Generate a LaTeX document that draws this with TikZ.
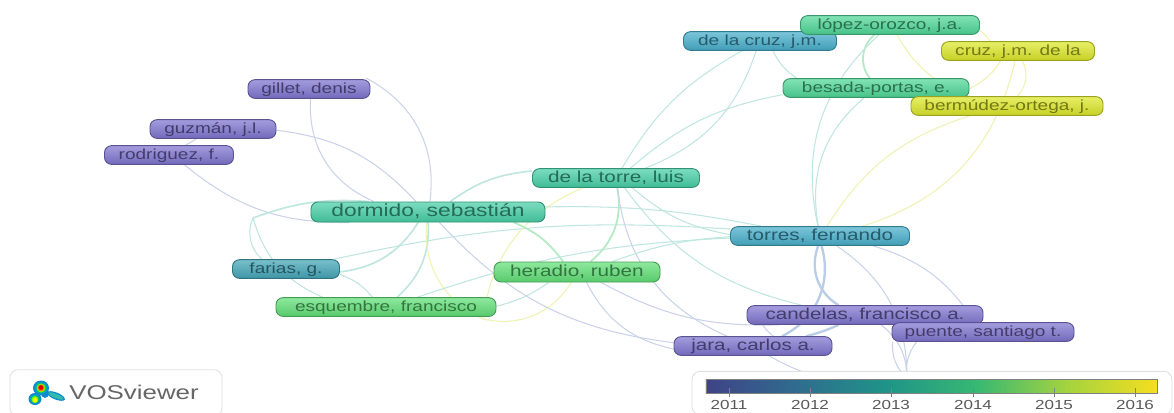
\documentclass[tikz,border=0pt]{standalone}
\usepackage{fontspec}
\setmainfont[FakeStretch=1.3]{Liberation Sans}
\usepackage{xcolor}
\usepackage{tikz}
\usetikzlibrary{backgrounds}

\definecolor{violetc}{HTML}{7F76D0}
\definecolor{bluec}{HTML}{48AFCB}
\definecolor{farisc}{HTML}{45A6B8}
\definecolor{tealc}{HTML}{48D0A6}
\definecolor{mintc}{HTML}{50D898}
\definecolor{greenc}{HTML}{62E078}
\definecolor{yellowc}{HTML}{DDE82A}
\definecolor{linkv}{HTML}{CBD3EA}
\definecolor{linkb}{HTML}{BACDE6}
\definecolor{linkt}{HTML}{C0E6E0}
\definecolor{linkg}{HTML}{B4EAC4}
\definecolor{linky}{HTML}{EEF3B4}
\definecolor{bara}{HTML}{404387}
\definecolor{barb}{HTML}{2F6C8E}
\definecolor{barc}{HTML}{1F9488}
\definecolor{bard}{HTML}{37B873}
\definecolor{bare}{HTML}{A4D33E}
\definecolor{barf}{HTML}{F5DE20}
\pgfdeclarehorizontalshading{yearbar}{100bp}{color(0bp)=(bara); color(25bp)=(bara); color(35bp)=(barb); color(45bp)=(barc); color(55bp)=(bard); color(65bp)=(bare); color(75bp)=(barf); color(100bp)=(barf)}

\begin{document}
\begin{tikzpicture}[x=0.03cm, y=-0.03cm,
    author/.style={rectangle, rounded corners=6pt, draw=#1!70!black, top color=#1!72!white, bottom color=#1!90!black, text=#1!52!black, line width=.8pt, inner sep=0pt, minimum height=0.56cm, text height=9pt, text depth=1pt, font=\fontsize{12.5}{14}\selectfont},
    vlink/.style={linkv, line width=.9pt},
    vthick/.style={linkb, line width=2pt},
    tlink/.style={linkt, line width=.9pt},
    gthick/.style={linkg, line width=1.5pt},
    tthick/.style={linkt, line width=1.4pt},
    ylink/.style={linky, line width=.9pt},
    whitebox/.style={rectangle, rounded corners=7pt, draw=gray!25, fill=white, line width=.7pt},
    tick/.style={gray, line width=.7pt},
    yearlabel/.style={text=black!65, font=\fontsize{11.2}{13}\selectfont}
]
\clip (0,0) rectangle (1174,412);

% Free ends of the links
\coordinate (gillettip) at (366,78);
\coordinate (fariastip) at (253,218);
\coordinate (esqtip) at (483,319);
\coordinate (bottomtip) at (907,378);

% Authors
\node[author=violetc, minimum width=3.66cm] (gillet) at (309,89) {gillet, denis};
\node[author=violetc, minimum width=3.78cm] (guzman) at (213,129) {guzmán, j.l.};
\node[author=violetc, minimum width=3.87cm] (rodriguez) at (169,155) {rodriguez, f.};
\node[author=tealc, minimum width=7.02cm, minimum height=0.6cm, font=\fontsize{15}{17}\selectfont] (dormido) at (428,212) {dormido, sebastián};
\node[author=tealc, minimum width=5.01cm, font=\fontsize{13.6}{15}\selectfont] (torre) at (616,178) {de la torre, luis};
\node[author=farisc, minimum width=3.21cm] (farias) at (286,269) {farias, g.};
\node[author=greenc, minimum width=6.6cm] (esquembre) at (386,307) {esquembre, francisco};
\node[author=greenc, minimum width=4.98cm, minimum height=0.6cm, font=\fontsize{13.6}{15}\selectfont] (heradio) at (577,272) {heradio, ruben};
\node[author=bluec, minimum width=5.37cm, font=\fontsize{13.6}{15}\selectfont] (torres) at (820,236) {torres, fernando};
\node[author=violetc, minimum width=7.08cm, font=\fontsize{13.5}{15}\selectfont] (candelas) at (865,315) {candelas, francisco a.};
\node[author=violetc, minimum width=5.46cm] (puente) at (983,332) {puente, santiago t.};
\node[author=violetc, minimum width=4.74cm, font=\fontsize{13.5}{15}\selectfont] (jara) at (753,346) {jara, carlos a.};
\node[author=bluec, minimum width=4.59cm] (cruzjm) at (760,41) {de la cruz, j.m.};
\node[author=mintc, minimum width=5.37cm] (lopez) at (890,25) {lópez-orozco, j.a.};
\node[author=yellowc, minimum width=4.59cm] (cruz) at (1018,51) {cruz, j.m. de la};
\node[author=mintc, minimum width=5.58cm] (besada) at (876,88) {besada-portas, e.};
\node[author=yellowc, minimum width=5.76cm] (bermudez) at (1007,106) {bermúdez-ortega, j.};

% Links behind the authors
\begin{pgfonlayer}{background}
\fill[white] (0,0) rectangle (1174,412);
\draw[vlink] (gillet) to[bend right=35] (dormido);
\draw[vlink] (gillettip) to[bend left=35] (dormido);
\draw[vlink] (guzman) to[bend left=20] (dormido);
\draw[vlink] (guzman) -- (rodriguez);
\draw[vlink] (rodriguez) to[bend right=20] (dormido);
\draw[tthick] (dormido) to[bend right=12] (fariastip);
\draw[tlink] (fariastip) to[bend right=35] (farias);
\draw[tlink] (fariastip) to[bend right=25] (esquembre);
\draw[tthick] (farias) to[bend right=25] (dormido);
\draw[tlink] (farias) to[bend left=15] (esquembre);
\draw[tlink] (farias) to[bend left=8] (torres);
\draw[tthick] (esquembre) to[bend right=25] (dormido);
\draw[ylink] (dormido) to[bend right=35] (esqtip);
\draw[ylink] (esqtip) to[bend left=30] (torre);
\draw[ylink] (esqtip) to[bend right=35] (heradio);
\draw[gthick] (dormido) to[bend left=15] (heradio);
\draw[tthick] (dormido) to[bend left=15] (torre);
\draw[tlink] (dormido) to[bend left=6] (torres);
\draw[vlink] (dormido) to[bend right=20] (jara);
\draw[tlink] (esquembre) to[bend left=8] (torres);
\draw[tlink] (esquembre) to[bend right=10] (heradio);
\draw[gthick] (heradio) to[bend right=30] (torre);
\draw[vlink] (torre) to[bend right=30] (jara);
\draw[tlink] (heradio) to[bend left=8] (torres);
\draw[vlink] (heradio) to[bend right=25] (jara);
\draw[vlink] (heradio) to[bend right=15] (candelas);
\draw[tlink] (torre) to[bend right=15] (torres);
\draw[tlink] (torre) to[bend right=20] (candelas);
\draw[tlink] (torre) to[bend left=15] (cruzjm);
\draw[tlink] (torre) to[bend right=25] (cruzjm);
\draw[tlink] (torre) to[bend left=15] (besada);
\draw[tlink] (cruzjm) -- (lopez);
\draw[tlink] (cruzjm) to[bend right=15] (besada);
\draw[gthick] (lopez) to[bend right=45] (besada);
\draw[tlink] (lopez) to[bend right=30] (torres);
\draw[tlink] (besada) to[bend right=30] (torres);
\draw[ylink] (lopez) to[bend right=20] (bermudez);
\draw[ylink] (lopez) to[bend left=8] (cruz);
\draw[ylink] (besada) to[bend right=15] (cruz);
\draw[ylink] (besada) -- (bermudez);
\draw[ylink] (cruz) to[bend left=35] (bermudez);
\draw[ylink] (cruz) to[bend left=30] (torres);
\draw[ylink] (bermudez) to[bend right=20] (torres);
\draw[vlink] (torres) to[bend left=28] (bottomtip);
\draw[vthick] (torres) to[bend left=40] (jara);
\draw[vthick] (torres) to[bend right=40] (candelas);
\draw[vlink] (torres) to[bend left=20] (puente);
\draw[vthick] (candelas) to[bend left=5] (jara);
\draw[vlink] (candelas) to[bend right=10] (jara);
\draw[vlink] (puente) to[bend right=25] (bottomtip);
\draw[vlink] (puente) to[bend right=55] (bottomtip);
\draw[vlink] (candelas) to[bend left=25] (bottomtip);
\draw[vlink] (jara) to[bend right=20] (bottomtip);
\end{pgfonlayer}

% Year legend
\node[whitebox, minimum width=14.4cm, minimum height=1.3cm] (legend) at (932,393) {};
\node[shading=yearbar, draw=gray, line width=.7pt, inner sep=0pt, minimum width=13.53cm, minimum height=0.42cm] (yearscale) at (931.5,386) {};
\foreach \xx/\yy in {729/2011, 810/2012, 891/2013, 973/2014, 1054/2015, 1135/2016} {
    \draw[tick] (\xx,388) -- (\xx,397);
    \node[yearlabel] (y\yy) at (\xx,405) {\yy};
}

% VOSviewer logo
\node[whitebox, minimum width=6.36cm, minimum height=1.4cm] (logobox) at (116,393) {};
\fill[cyan!70!blue] (41,388) ellipse (8 and 7.5);
\fill[cyan!70!blue] (35,399) ellipse (6.5 and 6);
\fill[cyan!70!blue, rotate around={-22:(56,396)}] (56,396) ellipse (9.5 and 3.5);
\fill[cyan!70!blue] (45,393) ellipse (4 and 5);
\fill[cyan!60!green] (41,388) ellipse (6.5 and 6);
\fill[cyan!60!green] (35,399) ellipse (5 and 4.5);
\fill[cyan!50!green!80, rotate around={-22:(56,396)}] (56,396) ellipse (8 and 2.2);
\fill[green!60!yellow] (35,399.5) ellipse (3.5 and 3.5);
\fill[green!60!yellow] (41,388) ellipse (4.5 and 4.5);
\fill[yellow] (35,400) ellipse (2.2 and 2.5);
\fill[orange] (41,388) ellipse (3.4 and 3.4);
\fill[red!85!black] (41,387.5) ellipse (2.4 and 2.4);
\node[text=black!60, font=\fontsize{17}{19}\selectfont, inner sep=0pt] (vos) at (134,392) {VOSviewer};
\end{tikzpicture}
\end{document}
